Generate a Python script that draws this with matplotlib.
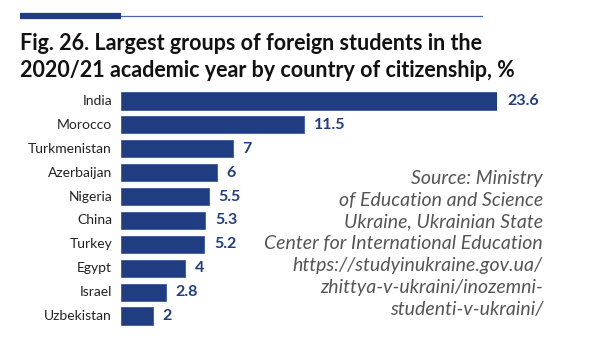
import matplotlib.pyplot as plt
import numpy as np

countries = ['India', 'Morocco', 'Turkmenistan', 'Azerbaijan', 'Nigeria',
             'China', 'Turkey', 'Egypt', 'Israel', 'Uzbekistan']
shares = [23.6, 11.5, 7, 6, 5.5, 5.3, 5.2, 4, 2.8, 2]
value_labels = ['23.6', '11.5', '7', '6', '5.5', '5.3', '5.2', '4', '2.8', '2']

title_lines = ['Fig. 26. Largest groups of foreign students in the',
               '2020/21 academic year by country of citizenship, %']
source_lines = ['Source: Ministry', 'of Education and Science',
                'Ukraine, Ukrainian State', 'Center for International Education',
                'https://studyinukraine.gov.ua/', 'zhittya-v-ukraini/inozemni-',
                'studenti-v-ukraini/']

W, H = 589, 352
blue = '#1f3d80'
plt.rcParams['font.family'] = ['Lato', 'DejaVu Sans']

fig = plt.figure(figsize=(W / 100, H / 100), dpi=100)
fig.patch.set_facecolor('white')

# header rule: thick block + thin line
fig.add_artist(plt.Line2D([20 / W, 121 / W], [1 - 16 / H, 1 - 16 / H], color=blue, lw=4.5,
                          solid_capstyle='butt'))
fig.add_artist(plt.Line2D([121 / W, 482 / W], [1 - 15.5 / H, 1 - 15.5 / H], color='#4a67a8', lw=0.9))

# title
fig.text(20 / W, 1 - 50 / H, title_lines[0], fontsize=15.5, fontweight='bold', color='#111111',
         ha='left', va='baseline')
fig.text(20 / W, 1 - 77 / H, title_lines[1], fontsize=15.5, fontweight='bold', color='#111111',
         ha='left', va='baseline')

ax = fig.add_axes([121 / W, 1 - 328 / H, 376 / W, 239 / H])
y = np.arange(len(countries))
ax.barh(y, shares, height=0.72, color=blue, edgecolor='#3a5a9a', linewidth=0.6)
ax.set_xlim(0, 23.6)
ax.set_ylim(len(countries) - 0.5, -0.5)
ax.axis('off')

for i, c in enumerate(countries):
    ax.annotate(c, (0, i), xytext=(-9, 0), textcoords='offset pixels', ha='right', va='center',
                fontsize=10, color='#222222', annotation_clip=False)
    ax.annotate(value_labels[i], (shares[i], i), xytext=(10, 0), textcoords='offset pixels',
                ha='left', va='center', fontsize=11.5, fontweight='bold', color=blue,
                annotation_clip=False)

# source note
for k, line in enumerate(source_lines):
    fig.text(543 / W, 1 - (184 + k * 21.8) / H, line, fontsize=14, style='italic',
             color='#555555', ha='right', va='baseline')

fig.savefig('out.png', dpi=100)
